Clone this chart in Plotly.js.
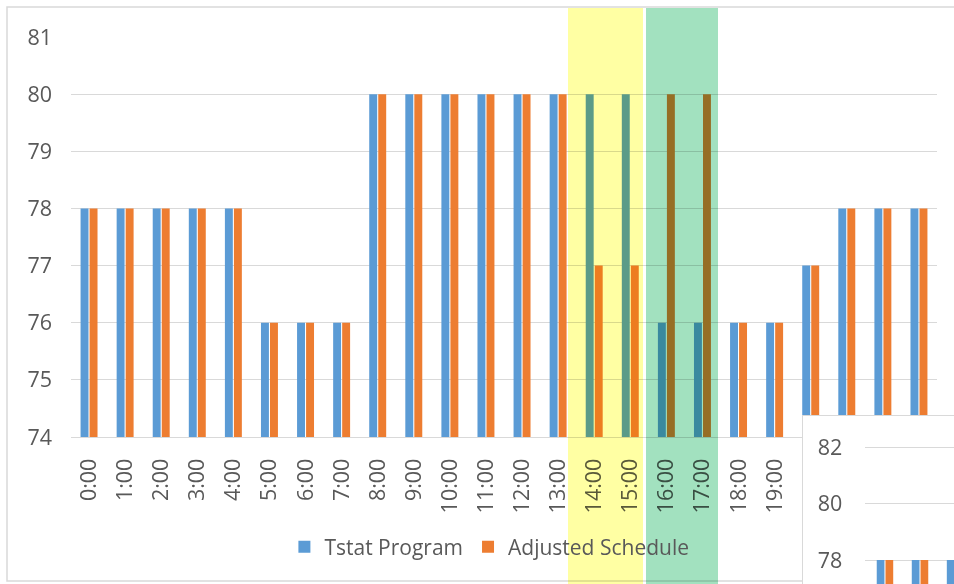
<!DOCTYPE html>
<html><head><meta charset="utf-8">
<script src="https://cdn.plot.ly/plotly-3.0.1.min.js"></script>
<style>
html,body{margin:0;padding:0;background:#fff;}
#chart{width:954px;height:584px;}
.layer-above .shapelayer path{mix-blend-mode:multiply;}
</style></head><body><div id="chart"></div>
<script>
const hours = ["0:00","1:00","2:00","3:00","4:00","5:00","6:00","7:00","8:00","9:00","10:00","11:00",
  "12:00","13:00","14:00","15:00","16:00","17:00","18:00","19:00","20:00","21:00","22:00","23:00"];
const tstatProgram     = [78,78,78,78,78,76,76,76,80,80,80,80,80,80,80,80,76,76,76,76,77,78,78,78];
const adjustedSchedule = [78,78,78,78,78,76,76,76,80,80,80,80,80,80,77,77,80,80,76,76,77,78,78,78];
const seriesNames = ["Tstat Program","Adjusted Schedule"];
const insetHours = ["0:00","1:00","2:00"];
const insetTstat = [78,78,78];
const insetAdjusted = [78,78,78];

const W = 954, H = 584;
const px = v => v / W, py = v => (H - v) / H;
const BLUE = "#5B9BD5", ORANGE = "#ED7D31", TXT = "#595959", GRID = "#D9D9D9";
const FONT = {family: "Open Sans, sans-serif", size: 21, color: TXT};
const TICKFONT = {family: "Open Sans, sans-serif", size: 21.5, color: TXT};

const traces = [
  {type:"bar", x:hours, y:tstatProgram, name:seriesNames[0], marker:{color:BLUE}, xaxis:"x", yaxis:"y"},
  {type:"bar", x:hours, y:adjustedSchedule, name:seriesNames[1], marker:{color:ORANGE}, xaxis:"x", yaxis:"y"},
  // empty holder so the inset frame subplot (labels + border) is created
  {type:"scatter", mode:"markers", x:[], y:[], xaxis:"x2", yaxis:"y2", showlegend:false, hoverinfo:"skip"},
  {type:"bar", x:insetHours, y:insetTstat, name:seriesNames[0], marker:{color:BLUE}, xaxis:"x3", yaxis:"y3", showlegend:false},
  {type:"bar", x:insetHours, y:insetAdjusted, name:seriesNames[1], marker:{color:ORANGE}, xaxis:"x3", yaxis:"y3", showlegend:false}
];

const layout = {
  width: W, height: H, autosize: false,
  margin: {l:0, r:0, t:0, b:0, pad:0},
  paper_bgcolor: "#ffffff", plot_bgcolor: "#ffffff",
  font: FONT,
  barmode: "group", bargap: 0.5, bargroupgap: 0.12,
  showlegend: true,
  legend: {orientation:"h", x:0.513, xanchor:"center", y:py(547), yanchor:"middle",
    font:FONT, bgcolor:"rgba(0,0,0,0)", traceorder:"normal", itemwidth:30},
  xaxis: {domain:[px(71), px(937)], anchor:"y", type:"category", tickangle:-90,
    showgrid:false, zeroline:false, showline:true, linecolor:GRID, linewidth:1,
    ticks:"", ticklabelstandoff:12, tickfont:TICKFONT, automargin:false},
  yaxis: {domain:[py(437), py(37)], anchor:"x", range:[74,81], dtick:1,
    showgrid:true, gridcolor:GRID, gridwidth:1, zeroline:false, showline:false,
    ticks:"", ticklabelstandoff:18, tickfont:TICKFONT, automargin:false},
  xaxis2: {domain:[px(803), 1], anchor:"y2", range:[0,1], side:"top",
    showgrid:false, zeroline:false, showticklabels:false, ticks:"",
    showline:true, linecolor:GRID, linewidth:1.5, automargin:false},
  yaxis2: {domain:[0, py(416)], anchor:"x2", range:[77.15,83.13], dtick:2,
    showgrid:false, zeroline:false, showline:true, linecolor:GRID, linewidth:1.5,
    ticks:"", ticklabelposition:"inside", ticklabelstandoff:16, tickfont:TICKFONT, automargin:false},
  xaxis3: {domain:[px(865), 1], anchor:"y3", type:"category", range:[-0.57,1.97],
    showgrid:false, zeroline:false, showticklabels:false, ticks:"", showline:false, automargin:false},
  yaxis3: {domain:[0, py(416)], anchor:"x3", range:[77.15,83.13], dtick:2,
    showgrid:true, gridcolor:GRID, gridwidth:1, zeroline:false, showticklabels:false,
    ticks:"", showline:false, automargin:false},
  shapes: [
    {type:"rect", xref:"paper", yref:"paper", x0:px(7), x1:1.02, y0:py(581), y1:py(7),
      line:{color:GRID, width:1.5}, fillcolor:"rgba(0,0,0,0)", layer:"below"},
    {type:"rect", xref:"paper", yref:"paper", x0:px(568), x1:px(643), y0:-0.02, y1:py(8),
      line:{width:0}, fillcolor:"#FFFFA3", layer:"above"},
    {type:"rect", xref:"paper", yref:"paper", x0:px(646), x1:px(718), y0:-0.02, y1:py(8),
      line:{width:0}, fillcolor:"#A2E1BF", layer:"above"}
  ]
};

Plotly.newPlot("chart", traces, layout, {displayModeBar:false, staticPlot:true}).then(gd => {
  const info = gd.querySelector(".infolayer");
  if (info && info.ownerSVGElement) info.ownerSVGElement.style.mixBlendMode = "multiply";
});
</script></body></html>
